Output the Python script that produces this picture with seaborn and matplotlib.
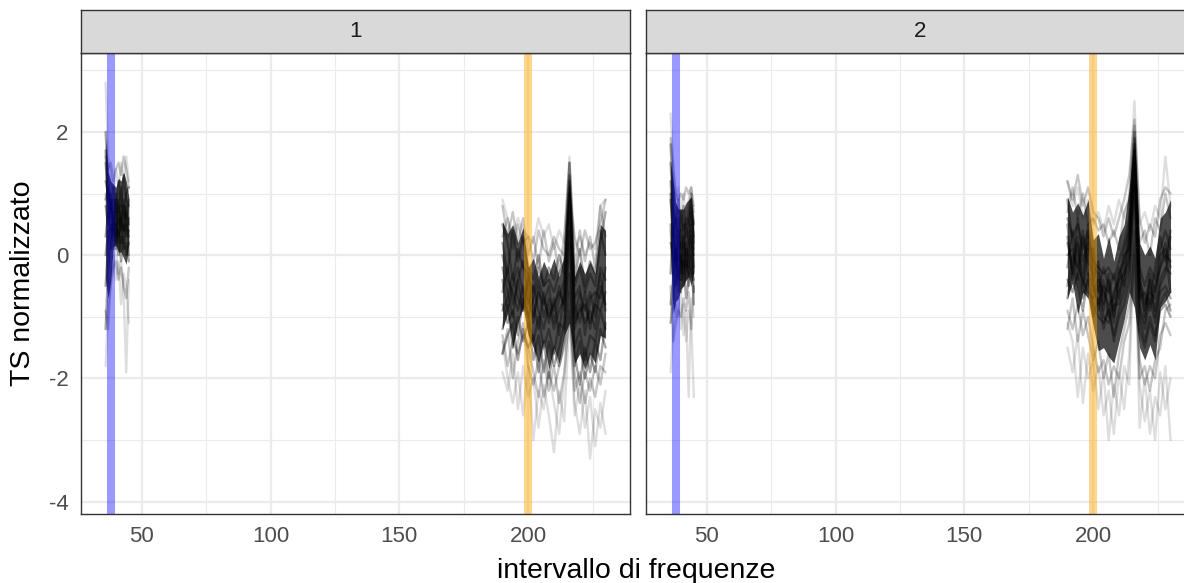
import matplotlib

matplotlib.use("Agg")
import matplotlib.pyplot as plt
import pandas as pd
import seaborn as sns

# frequency grid of the two measured windows
freq_low = [36, 37, 38, 39, 40, 41, 42, 43, 44, 45]
freq_high = [190, 192, 194, 196, 198, 200, 202, 204, 206, 208, 210,
             212, 214, 216, 218, 220, 222, 224, 226, 228, 230]

facet_labels = ["1", "2"]
marker_low = [38, 38]
marker_high = [200, 200]

x_ticks = [50, 100, 150, 200]
y_ticks = [2, 0, -2, -4]

# facet 1
p1_low_core = [
    [2.0, 1.2, 0.8, 0.6, 0.9, 0.5, 0.8, 0.4, 0.7, 0.5],
    [1.5, 0.9, 0.4, 0.7, 0.3, 0.6, 0.2, 0.5, 0.3, 0.4],
    [0.8, 0.5, 0.9, 0.3, 0.7, 0.2, 0.6, 0.9, 0.4, 0.6],
    [-0.5, 0.2, 0.5, 0.1, 0.4, 0.0, 0.3, 0.1, 0.2, -0.1],
    [1.2, 1.0, 0.6, 1.1, 0.7, 1.2, 0.8, 1.3, 0.9, 0.8],
    [0.3, 0.7, 0.3, 0.5, 0.1, 0.4, -0.1, 0.3, 0.0, 0.2],
    [1.7, 0.6, 1.0, 0.4, 1.0, 0.7, 1.1, 0.6, 1.0, 1.1],
    [-1.2, -0.2, 0.2, 0.4, 0.5, 0.3, 0.6, 0.2, 0.5, 0.3],
    [0.9, 1.1, 0.7, 0.9, 0.5, 0.9, 0.4, 0.8, 0.6, 0.9],
    [0.0, 0.4, 0.1, 0.6, 0.2, 0.8, 0.5, 0.4, 0.8, 0.0],
]
p1_low_mid = [
    [1.6, 1.4, 1.5, 1.2, 1.4, 1.5, 1.3, 1.6, 1.4, 1.1],
    [-0.9, -1.2, -0.4, -0.2, -0.1, -0.4, -0.2, -0.5, -0.7, -0.2],
]
p1_low_faint = [
    [2.8, 1.6, 1.3, 1.0, 1.4, 1.1, 1.5, 1.2, 1.6, 1.2],
    [-1.8, -0.8, -0.5, -0.2, 0.1, -0.3, -0.1, -0.6, -1.9, -0.4],
    [1.0, 0.2, -0.3, 0.0, -0.4, -0.1, -0.8, -0.3, -0.5, -1.1],
]
p1_low_band_top = [1.9, 1.35, 1.2, 1.15, 1.1, 1.25, 1.2, 1.35, 1.2, 0.95]
p1_low_band_bottom = [-0.4, -0.7, -0.4, 0.15, 0.15, 0.05, 0.05, -0.05, -0.15, 0.2]

p1_high_core = [
    [0.5, 0.2, -0.4, 0.1, -0.2, -0.3, -0.6, -0.2, -0.5, -0.4, -0.6, -0.3, -0.1, 1.3, -0.5, -0.2, -0.6, -0.3, -0.5, 0.2, 0.7],
    [-0.8, -1.1, -0.9, -1.3, -0.7, -1.0, -1.4, -1.0, -1.5, -1.2, -1.6, -1.1, -1.2, 0.4, -1.5, -1.2, -1.7, -1.3, -1.4, -0.9, -1.2],
    [-0.2, -0.6, -1.0, -0.4, -0.9, -0.3, -0.8, -1.2, -0.6, -1.1, -0.7, -1.3, -0.5, 1.1, -0.8, -1.1, -0.6, -1.2, -0.7, -0.3, -0.9],
    [-1.2, -0.8, -1.5, -1.0, -1.4, -1.1, -1.7, -1.3, -1.9, -1.4, -1.8, -1.5, -1.1, 0.2, -1.8, -1.4, -2.0, -1.6, -1.9, -1.2, -1.5],
    [0.2, -0.3, 0.4, -0.1, 0.3, -0.2, -0.4, 0.0, -0.5, -0.2, -0.4, 0.0, -0.3, 1.5, -0.4, 0.1, -0.5, -0.1, -0.3, 0.4, 0.0],
    [-0.6, -0.2, -0.8, -0.4, -0.1, -0.7, -1.0, -0.6, -0.8, -0.5, -1.1, -0.7, -0.4, 1.0, -1.0, -0.6, -0.9, -0.6, -1.0, -0.2, -0.4],
    [-1.6, -1.3, -1.1, -1.7, -1.2, -1.5, -1.3, -1.9, -1.4, -2.0, -1.5, -1.8, -1.4, -0.3, -1.6, -2.1, -1.5, -1.9, -1.4, -1.7, -1.1],
    [0.0, -0.4, -0.6, -0.9, -0.5, -0.8, -0.5, -0.9, -1.2, -0.8, -1.2, -0.9, -0.7, 0.7, -1.2, -0.8, -1.1, -0.9, -1.2, -0.5, -0.8],
    [-0.9, -0.7, -0.3, -0.7, -0.9, -0.4, -1.1, -0.5, -1.0, -0.7, -0.9, -0.5, -0.9, 0.6, -0.7, -0.5, -1.3, -0.7, -0.6, -0.7, -0.2],
    [-0.4, -0.9, -0.5, -0.2, -0.6, -1.0, -0.7, -0.4, -0.7, -1.0, -0.8, -0.6, -0.8, 1.2, -1.1, -0.9, -0.8, -1.1, -0.8, -0.9, -0.6],
]
p1_high_mid = [
    [0.8, 0.3, 0.7, 0.2, 0.6, 0.0, 0.3, -0.2, 0.4, -0.1, 0.2, -0.3, 0.3, 1.5, -0.2, 0.4, -0.1, 0.3, -0.2, 0.8, 0.3],
    [-1.6, -1.2, -2.0, -1.4, -1.1, -1.8, -2.1, -1.7, -2.3, -1.9, -2.2, -1.8, -1.5, -0.6, -2.2, -1.9, -2.4, -2.0, -2.3, -1.8, -1.9],
    [-1.3, -1.8, -1.4, -1.6, -1.3, -1.5, -1.9, -2.3, -1.7, -2.2, -1.8, -2.4, -1.9, -0.9, -1.9, -2.4, -1.9, -2.2, -1.8, -2.1, -1.6],
    [0.3, 0.6, 0.1, 0.5, 0.2, 0.3, -0.1, 0.4, 0.1, 0.0, 0.3, 0.1, 0.0, 1.0, 0.3, 0.0, 0.4, 0.1, 0.2, 0.5, 0.9],
]
p1_high_faint = [
    [0.9, 0.6, 0.3, 0.6, 0.4, 0.3, 0.2, 0.6, 0.3, 0.5, 0.1, 0.4, 0.2, 1.6, 0.1, 0.3, 0.0, 0.2, 0.1, 0.8, 0.9],
    [-1.9, -2.2, -1.6, -2.5, -1.8, -2.3, -2.0, -2.8, -2.1, -2.6, -3.2, -2.2, -2.7, -1.0, -2.4, -2.9, -2.2, -3.3, -2.5, -2.8, -2.2],
    [-1.4, -2.0, -2.4, -1.9, -2.6, -1.8, -3.0, -2.2, -2.5, -1.9, -2.4, -2.9, -2.0, -0.8, -2.6, -2.1, -2.8, -2.3, -3.1, -2.4, -2.9],
]
p1_high_band_top = [0.55, 0.35, 0.5, 0.2, 0.45, -0.2, -0.05, -0.35, -0.1, -0.3, -0.05,
                    -0.35, 0.0, 1.3, -0.35, -0.1, -0.3, -0.1, -0.3, 0.5, 0.4]
p1_high_band_bottom = [-1.2, -0.95, -1.5, -1.1, -0.85, -1.3, -1.5, -1.75, -1.4, -1.85, -1.5,
                       -1.75, -1.3, -1.1, -1.75, -1.6, -1.85, -1.6, -1.75, -1.3, -1.35]

# facet 2
p2_low_core = [
    [1.8, 0.9, 0.3, 0.6, 0.1, 0.5, 0.0, 0.4, 0.8, 0.2],
    [1.2, 0.4, -0.2, 0.2, -0.3, 0.3, -0.4, 0.1, 0.5, -0.2],
    [0.5, -0.3, 0.1, -0.4, 0.0, -0.5, -0.1, -0.3, 0.2, -0.6],
    [-0.8, -0.4, 0.3, -0.1, 0.4, 0.1, 0.5, 0.2, 0.7, 0.3],
    [1.5, 0.7, 0.5, 0.9, 0.4, 0.8, 0.3, 0.7, 1.0, 0.5],
    [0.2, 0.0, -0.5, -0.2, -0.6, -0.1, -0.7, -0.4, 0.0, -0.8],
    [-1.1, -0.7, -0.3, 0.0, -0.4, 0.2, -0.2, 0.1, 0.4, -0.3],
    [0.9, 0.3, 0.6, 0.2, 0.7, 0.4, 0.6, 0.5, 0.9, 0.1],
    [1.0, 0.1, -0.1, 0.4, -0.1, -0.2, 0.2, -0.2, 0.3, 0.0],
    [-0.3, 0.5, 0.0, -0.6, 0.2, -0.3, 0.1, -0.5, -0.2, -0.4],
]
p2_low_mid = [
    [1.9, 1.4, 1.0, 0.9, 1.0, 0.9, 1.1, 1.0, 1.1, 0.7],
    [-0.5, -1.4, -1.1, -0.9, -1.0, -0.7, -0.9, -0.6, -1.2, -0.5],
]
p2_low_faint = [
    [2.3, 1.5, 0.9, 1.1, 0.7, 1.0, 0.6, 0.9, 1.1, 0.8],
    [-1.9, -1.2, -0.8, -1.0, -0.6, -1.3, -0.9, -2.3, -0.7, -1.0],
    [0.4, -0.6, -1.0, -0.7, -1.2, -0.8, -1.4, -0.9, -1.1, -2.3],
]
p2_low_band_top = [1.5, 1.2, 0.85, 0.75, 0.75, 0.75, 0.85, 0.9, 0.95, 0.55]
p2_low_band_bottom = [0.05, -0.95, -0.75, -0.7, -0.55, -0.5, -0.4, -0.35, -0.5, -0.25]

p2_high_core = [
    [0.6, 0.3, 0.5, 0.1, 0.4, -0.1, -0.2, -0.3, -0.2, -0.4, -0.1, 0.2, 0.6, 2.0, -0.2, -0.5, -0.2, -0.4, 0.1, 0.4, 0.1],
    [-0.4, -0.6, -0.3, -0.7, -0.4, -0.8, -1.0, -1.1, -0.9, -1.3, -0.9, -0.6, -0.2, 1.2, -1.0, -1.4, -1.0, -1.3, -0.8, -0.6, -0.9],
    [0.9, 0.2, -0.2, 0.4, -0.3, -0.5, -0.8, -0.4, -1.0, -0.6, -0.4, 0.1, 0.4, 1.8, -0.4, -0.7, -0.9, -0.5, -0.2, 0.2, -0.2],
    [-0.2, 0.4, 0.0, -0.5, 0.3, -0.2, -0.3, -0.9, -0.4, -1.0, -0.6, -0.3, 0.0, 1.5, -0.8, -1.1, -0.4, -1.0, -0.5, -0.3, 0.3],
    [0.3, -0.3, 0.6, -0.1, 0.2, -0.6, -0.4, -0.6, -0.8, -0.7, -0.2, -0.5, 0.3, 1.7, -0.5, -0.8, -0.6, -0.7, 0.0, 0.1, -0.6],
    [-0.7, -0.2, -0.5, -0.9, -0.3, -1.0, -0.7, -1.2, -0.8, -1.4, -1.0, -0.8, -0.4, 1.1, -1.2, -1.5, -1.1, -1.4, -0.9, -0.8, -1.0],
    [0.0, 0.1, -0.4, 0.3, -0.1, -0.3, -0.9, -0.5, -0.6, -0.3, -0.7, 0.0, 0.1, 1.6, -0.3, -1.0, -0.4, -0.9, -0.4, -0.2, -0.3],
    [0.5, -0.4, 0.2, -0.3, 0.5, -0.4, -0.1, -0.8, -0.3, -0.9, -0.4, -0.3, 0.5, 1.9, -0.7, -0.6, -0.8, -0.2, 0.3, -0.1, 0.4],
    [-0.5, 0.0, -0.2, -0.4, -0.6, -0.7, -0.5, -1.0, -1.1, -0.8, -0.8, -0.4, -0.1, 1.3, -0.9, -1.2, -0.7, -1.1, -0.6, -0.5, -0.7],
    [0.2, -0.2, 0.3, -0.6, 0.1, 0.1, -0.6, -0.2, -0.5, -1.1, -0.3, -0.1, 0.2, 1.7, -0.6, -0.9, -0.3, -0.6, -0.2, 0.0, -0.1],
]
p2_high_mid = [
    [1.2, 0.9, 1.3, 0.8, 1.1, 0.7, 0.6, 0.3, 0.6, 0.3, 0.6, 0.9, 1.3, 2.2, 0.6, 0.2, 0.5, 0.3, 0.9, 1.1, 1.0],
    [-0.9, -1.2, -0.8, -1.3, -1.0, -1.5, -1.9, -1.7, -2.1, -1.8, -2.0, -1.4, -1.1, 0.0, -1.7, -2.1, -1.8, -2.0, -1.3, -1.1, -1.3],
    [-1.2, -0.7, -1.4, -0.9, -1.3, -1.7, -1.4, -2.0, -1.6, -2.3, -1.6, -1.2, -0.8, 0.4, -2.0, -1.8, -2.2, -1.7, -1.5, -0.9, -0.8],
    [0.7, 1.1, 0.6, 1.0, 0.5, 0.6, 0.4, 0.5, 0.2, 0.4, 0.1, 0.7, 0.9, 2.1, 0.2, 0.4, 0.0, 0.6, 0.4, 1.0, 0.6],
]
p2_high_faint = [
    [1.2, 0.8, 1.1, 0.6, 0.9, 0.5, 0.7, 0.4, 0.8, 0.5, 0.9, 0.6, 1.0, 2.5, 0.5, 0.7, 0.4, 0.8, 0.6, 1.6, 0.8],
    [-1.5, -1.9, -1.3, -2.4, -1.6, -2.2, -1.8, -2.6, -2.2, -2.9, -1.9, -2.5, -1.6, 0.2, -2.1, -2.7, -2.2, -3.0, -1.9, -2.5, -2.0],
    [-1.1, -1.4, -2.3, -1.5, -2.0, -1.7, -2.5, -1.9, -3.0, -2.1, -2.6, -1.8, -2.1, 0.6, -2.8, -2.0, -2.9, -2.3, -2.6, -1.8, -3.0],
]
p2_high_band_top = [0.95, 0.7, 0.85, 0.65, 0.9, 0.25, 0.35, -0.05, 0.3, -0.1, 0.3,
                    0.5, 1.1, 1.95, 0.2, 0.0, 0.15, -0.05, 0.6, 0.7, 0.9]
p2_high_band_bottom = [-0.7, -0.45, -0.95, -0.6, -0.7, -1.15, -1.55, -1.5, -1.65, -1.75, -1.4,
                       -1.05, -0.6, -0.85, -1.5, -1.7, -1.45, -1.7, -0.85, -0.75, -0.6]

# layout in pixels (right facet runs past the image edge, as in the source)
W, H = 1184, 583
PANEL_W = 549
PANEL_LEFT = [81, 646]
PANEL_TOP, PANEL_BOTTOM = 53, 514
STRIP_TOP = 10
GRID = "#EBEBEB"
DARK = "#333333"


def to_long(low, high):
    rows = []
    for i, values in enumerate(low):
        rows += [(i, f, v) for f, v in zip(freq_low, values)]
    for i, values in enumerate(high):
        rows += [(100 + i, f, v) for f, v in zip(freq_high, values)]
    return pd.DataFrame(rows, columns=["serie", "freq", "ts"])


def draw_facet(fig, k, curves, bands):
    left = PANEL_LEFT[k]
    ax = fig.add_axes([left / W, (H - PANEL_BOTTOM) / H, PANEL_W / W,
                       (PANEL_BOTTOM - PANEL_TOP) / H])
    # dense overlap of many curves -> dark envelope
    for freqs, top, bottom in bands:
        ax.fill_between(freqs, bottom, top, color="black", alpha=0.7, lw=0, zorder=2)
    for (low, high), alpha in zip(curves, [0.13, 0.22, 0.35]):
        sns.lineplot(data=to_long(low, high), x="freq", y="ts", units="serie",
                     estimator=None, color="black", alpha=alpha, lw=1.7,
                     ax=ax, legend=False)
    ax.axvline(marker_low[k], color="blue", alpha=0.4, lw=5.8, zorder=3)
    ax.axvline(marker_high[k], color="orange", alpha=0.45, lw=5.8, zorder=3)

    ax.set_xlim(26.45, 239.5)
    ax.set_ylim(-4.2, 3.28)
    ax.set_xticks(x_ticks)
    ax.set_xticks([75, 125, 175, 225], minor=True)
    ax.set_yticks(y_ticks)
    ax.set_yticks([3, 1, -1, -3], minor=True)
    ax.set_axisbelow(True)
    ax.grid(which="major", color=GRID, lw=1.6)
    ax.grid(which="minor", color=GRID, lw=0.8)
    ax.tick_params(which="minor", length=0)
    ax.tick_params(which="major", length=5.5, width=1.3, color=DARK,
                   labelcolor="#4D4D4D", labelsize=16, pad=3.5)
    if k > 0:
        ax.tick_params(left=False, labelleft=False)
    ax.set_xlabel("")
    ax.set_ylabel("")
    for spine in ax.spines.values():
        spine.set_color(DARK)
        spine.set_linewidth(1.0)
        spine.set_zorder(5)

    strip = fig.add_axes([left / W, (H - PANEL_TOP) / H, PANEL_W / W,
                          (PANEL_TOP - STRIP_TOP) / H])
    strip.set_facecolor("#D9D9D9")
    strip.set_xticks([])
    strip.set_yticks([])
    for spine in strip.spines.values():
        spine.set_color(DARK)
        spine.set_linewidth(1.0)
    strip.text(0.5, 0.5, facet_labels[k], ha="center", va="center",
               fontsize=16, color="#1A1A1A", transform=strip.transAxes)
    return ax


sns.set_style("white")
plt.rcParams["font.family"] = ["Liberation Sans", "DejaVu Sans"]
plt.rcParams["axes.unicode_minus"] = False

fig = plt.figure(figsize=(W / 100, H / 100), dpi=100)
draw_facet(fig, 0,
           [(p1_low_faint, p1_high_faint), (p1_low_mid, p1_high_mid), (p1_low_core, p1_high_core)],
           [(freq_low, p1_low_band_top, p1_low_band_bottom),
            (freq_high, p1_high_band_top, p1_high_band_bottom)])
draw_facet(fig, 1,
           [(p2_low_faint, p2_high_faint), (p2_low_mid, p2_high_mid), (p2_low_core, p2_high_core)],
           [(freq_low, p2_low_band_top, p2_low_band_bottom),
            (freq_high, p2_high_band_top, p2_high_band_bottom)])

fig.text(23 / W, 1 - 283.5 / H, "TS normalizzato", rotation=90,
         ha="center", va="center", fontsize=20.5, color="black")
fig.text(636 / W, (H - 578) / H, "intervallo di frequenze",
         ha="center", va="baseline", fontsize=20.5, color="black")

fig.savefig("out.png", dpi=100)
plt.close(fig)
